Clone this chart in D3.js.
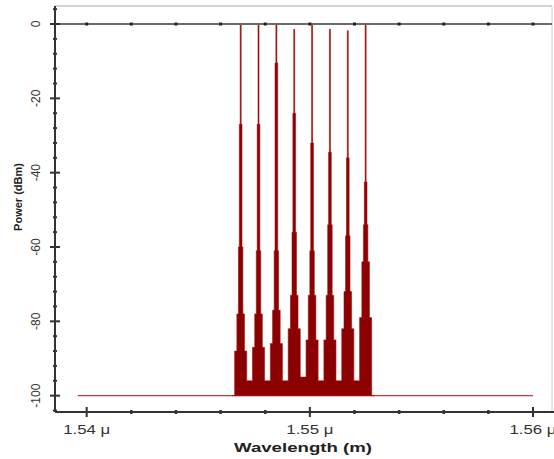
<!DOCTYPE html>
<html>
<head>
<meta charset="utf-8">
<script src="https://cdn.jsdelivr.net/npm/d3@7"></script>
<style>
  body { margin: 0; background: #fff; }
  svg { display: block; font-family: "Liberation Sans", Arial, sans-serif; }
</style>
</head>
<body>
<svg width="554" height="459"></svg>
<script>
// data (wavelength in nm, power in dBm)
var chanNm     = [1546.9, 1547.7, 1548.5, 1549.3, 1550.1, 1550.9, 1551.7, 1552.5];
var peakDb     = [0, 0, 0, -1.4, 0, -1.4, -1.8, 0];
var innerDb    = [-27, -27, -10.5, -24, -32, -34.5, -36, -42.5];
var bodyDb     = [-60, -61, -61, -56, -61, -54, -57, -54];
var shoulderDb = [-78, -78, -77, -73, -73, -73, -72, -64];
var skirtDb    = [-88, -87, -86, -82, -85, -85, -82, -79];
var troughDb   = [-100, -96, -96, -96, -95, -96, -96, -96, -100];
var stepHalfNm = [0.022, 0.06, 0.1, 0.17, 0.27];
var baseNm     = [1539.6, 1560];
var baseDb     = [-100, -100];

var xTicks = [1540, 1550, 1560],
    xTickLabels = ["1.54 \u03bc", "1.55 \u03bc", "1.56 \u03bc"],
    yTicks = [0, -20, -40, -60, -80, -100];
// end of data

var svg = d3.select("svg"),
    plotL = 55, plotR = 554, plotT = 6, plotB = 412;

var x = d3.scaleLinear().domain([1538.58, 1560.94]).range([plotL, plotR]);
var y = d3.scaleLinear().domain([-104.4, 4.85]).range([plotB, plotT]);

// frame
svg.append("line").attr("x1", plotL).attr("x2", 552).attr("y1", plotT).attr("y2", plotT)
  .attr("stroke", "#c4c4c4").attr("stroke-width", 1.5);
svg.append("line").attr("x1", 552).attr("x2", 552).attr("y1", plotT).attr("y2", plotB)
  .attr("stroke", "#d0d0d0").attr("stroke-width", 1);

// spectrum vertices, one staircase per channel
var spectrum = [];
chanNm.forEach(function(c, i) {
  var lev = [peakDb[i], innerDb[i], bodyDb[i], shoulderDb[i], skirtDb[i]];
  var tl = troughDb[i], tr = troughDb[i + 1], prev = tl;
  spectrum.push([c - 0.4, tl]);
  for (var k = 4; k >= 0; k--) {
    spectrum.push([c - stepHalfNm[k], prev]);
    spectrum.push([c - stepHalfNm[k], lev[k]]);
    prev = lev[k];
  }
  for (var k = 0; k <= 4; k++) {
    spectrum.push([c + stepHalfNm[k], lev[k]]);
    spectrum.push([c + stepHalfNm[k], k < 4 ? lev[k + 1] : tr]);
  }
  spectrum.push([c + 0.4, tr]);
});

// baseline
var base = baseNm.map(function(d, i) { return [d, baseDb[i]]; });
svg.append("path").datum(base)
  .attr("d", d3.line().x(function(d) { return x(d[0]); }).y(function(d) { return y(d[1]); }))
  .attr("fill", "none").attr("stroke", "#c43a3a").attr("stroke-width", 1.2);

svg.append("path").datum(spectrum)
  .attr("d", d3.area()
    .x(function(d) { return x(d[0]); })
    .y0(y(-100))
    .y1(function(d) { return y(d[1]); }))
  .attr("fill", "#8b0000")
  .attr("stroke", "#a01010").attr("stroke-width", 0.6);

// 0 dBm reference line with tick dots
var xMinor = d3.range(1540, 1561, 2);
svg.append("line").attr("x1", plotL).attr("x2", 552).attr("y1", y(0)).attr("y2", y(0))
  .attr("stroke", "#6a6a6a").attr("stroke-width", 2.2);
svg.selectAll(".zdot").data(xMinor).enter().append("rect")
  .attr("x", function(d) { return x(d) - 1.5; }).attr("y", y(0) - 1.5)
  .attr("width", 3).attr("height", 3).attr("fill", "#222");

// bottom axis
var gx = svg.append("g");
gx.append("line").attr("x1", plotL).attr("x2", plotR).attr("y1", plotB).attr("y2", plotB)
  .attr("stroke", "#333").attr("stroke-width", 2);
gx.selectAll(".xm").data(xMinor).enter().append("line")
  .attr("x1", function(d) { return x(d); }).attr("x2", function(d) { return x(d); })
  .attr("y1", function(d) { return xTicks.indexOf(d) >= 0 ? plotB - 5 : plotB - 2; })
  .attr("y2", function(d) { return xTicks.indexOf(d) >= 0 ? plotB + 5 : plotB + 2; })
  .attr("stroke", "#333").attr("stroke-width", function(d) { return xTicks.indexOf(d) >= 0 ? 2 : 2.5; });
gx.selectAll(".xl").data(xTicks).enter().append("text")
  .attr("x", function(d) { return x(d); }).attr("y", 434)
  .attr("text-anchor", "middle").attr("font-size", 12.5).attr("fill", "#333")
  .attr("textLength", 47).attr("lengthAdjust", "spacingAndGlyphs")
  .text(function(d, i) { return xTickLabels[i]; });
svg.append("text").attr("x", 303).attr("y", 452)
  .attr("text-anchor", "middle").attr("font-size", 13).attr("font-weight", "bold").attr("fill", "#222")
  .attr("textLength", 138).attr("lengthAdjust", "spacingAndGlyphs")
  .text("Wavelength (m)");

// left axis
var yMinor = d3.range(4, -105, -4);
var gy = svg.append("g");
gy.append("line").attr("x1", plotL).attr("x2", plotL).attr("y1", plotT).attr("y2", plotB)
  .attr("stroke", "#333").attr("stroke-width", 2);
gy.selectAll(".ym").data(yMinor).enter().append("line")
  .attr("y1", function(d) { return y(d); }).attr("y2", function(d) { return y(d); })
  .attr("x1", function(d) { return yTicks.indexOf(d) >= 0 ? plotL - 5 : plotL - 2; })
  .attr("x2", function(d) { return yTicks.indexOf(d) >= 0 ? plotL + 5 : plotL + 2; })
  .attr("stroke", "#333").attr("stroke-width", 2);
gy.selectAll(".yl").data(yTicks).enter().append("text")
  .attr("transform", function(d) { return "translate(40," + y(d) + ") rotate(-90)"; })
  .attr("text-anchor", "middle").attr("font-size", 12).attr("fill", "#333")
  .text(function(d) { return d; });
svg.append("text").attr("transform", "translate(22,197) rotate(-90)")
  .attr("text-anchor", "middle").attr("font-size", 11).attr("font-weight", "bold").attr("fill", "#222")
  .text("Power (dBm)");
</script>
</body>
</html>
